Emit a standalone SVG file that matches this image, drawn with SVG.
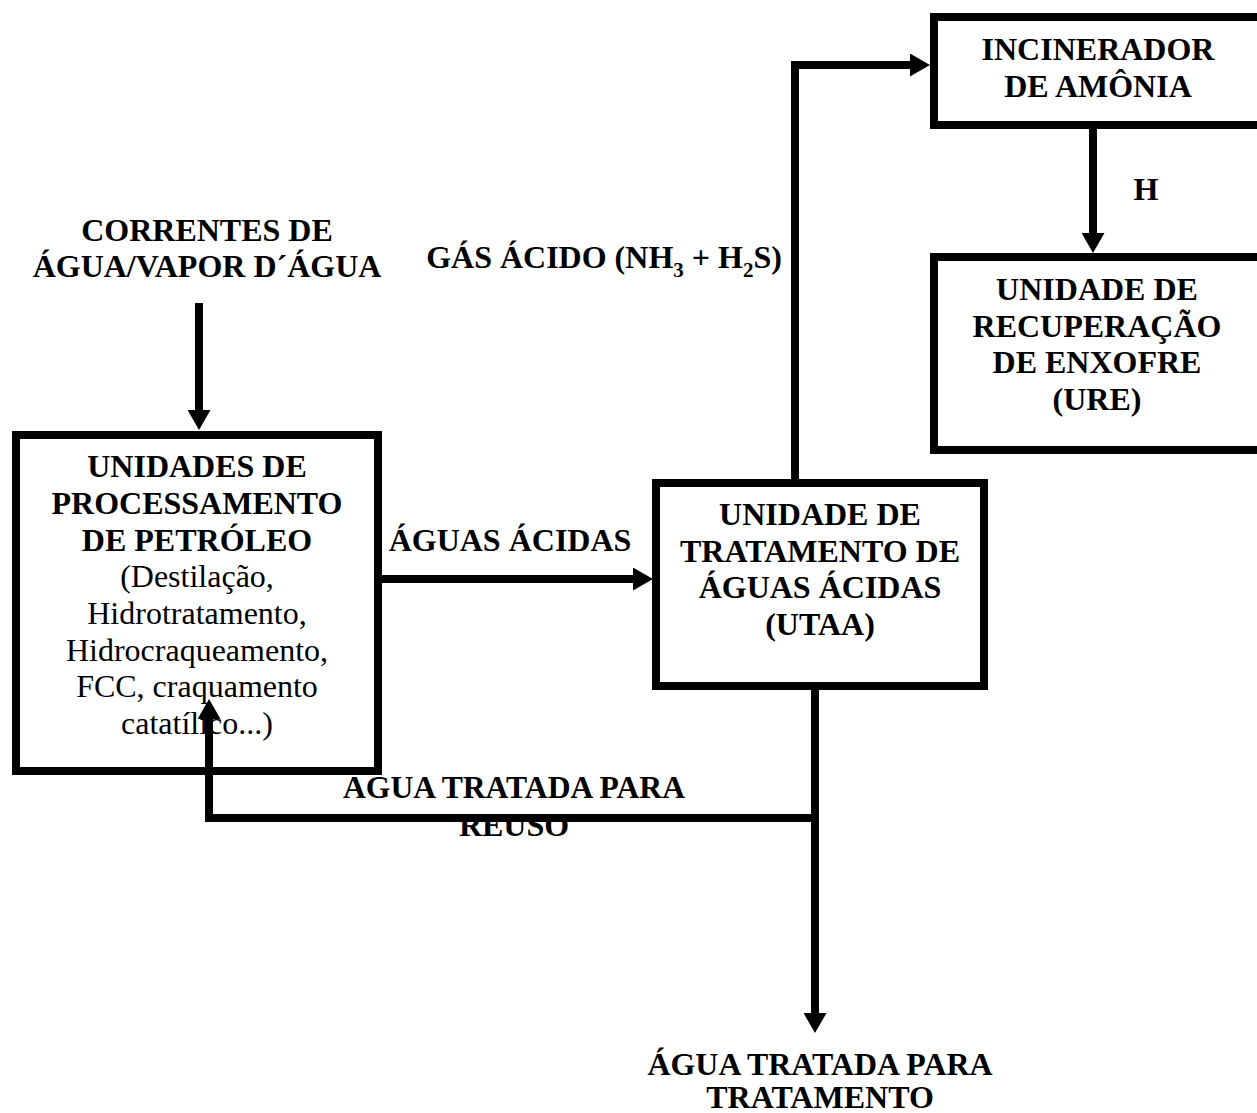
<svg xmlns="http://www.w3.org/2000/svg" width="1257" height="1113" viewBox="0 0 1257 1113">
<style>
.box{fill:#fff;stroke:#000;stroke-width:8}
.b{font-family:"Liberation Serif","Times New Roman",serif;font-weight:bold;font-size:32px;fill:#000;text-anchor:middle}
.r{font-family:"Liberation Serif","Times New Roman",serif;font-size:32px;fill:#000;text-anchor:middle}
.sub{font-size:21px}
.conn{fill:none;stroke:#000;stroke-width:8;stroke-linejoin:miter}
</style>
<defs>
<marker id="ah" markerUnits="userSpaceOnUse" markerWidth="20" markerHeight="23" viewBox="0 0 20 23" refX="8" refY="11.5" orient="auto">
<path d="M0,0 L20,11.5 L0,23 z" fill="#000"/>
</marker>
</defs>
<rect width="1257" height="1113" fill="#fff"/>
<g id="labels">
<text class="b" x="207" y="241">CORRENTES DE</text>
<text class="b" x="207" y="277">ÁGUA/VAPOR D´ÁGUA</text>
<text class="b" x="604" y="268" text-anchor="middle">GÁS ÁCIDO (NH<tspan class="sub" dy="9">3</tspan><tspan dy="-9"> + H</tspan><tspan class="sub" dy="9">2</tspan><tspan dy="-9">S)</tspan></text>
<text class="b" x="1146" y="200">H</text>
<text class="b" x="510" y="551">ÁGUAS ÁCIDAS</text>
<text class="b" x="514" y="798" textLength="342" lengthAdjust="spacingAndGlyphs">AGUA TRATADA PARA</text>
<text class="b" x="514" y="836">REUSO</text>
<text class="b" x="820" y="1075" textLength="345" lengthAdjust="spacingAndGlyphs">ÁGUA TRATADA PARA</text>
<text class="b" x="820" y="1108">TRATAMENTO</text>
</g>
<g id="node-unidades">
<rect class="box" x="16" y="435" width="362" height="336"/>
<text class="b" x="197" y="477">UNIDADES DE</text>
<text class="b" x="197" y="514">PROCESSAMENTO</text>
<text class="b" x="197" y="551">DE PETRÓLEO</text>
<text class="r" x="197" y="587">(Destilação,</text>
<text class="r" x="197" y="624">Hidrotratamento,</text>
<text class="r" x="197" y="661">Hidrocraqueamento,</text>
<text class="r" x="197" y="697">FCC, craquamento</text>
<text class="r" x="197" y="734">catatílico...)</text>
</g>
<g id="node-utaa">
<rect class="box" x="656" y="483" width="328" height="203"/>
<text class="b" x="820" y="525">UNIDADE DE</text>
<text class="b" x="820" y="562">TRATAMENTO DE</text>
<text class="b" x="820" y="598">ÁGUAS ÁCIDAS</text>
<text class="b" x="820" y="635">(UTAA)</text>
</g>
<g id="node-incinerador">
<rect class="box" x="934" y="17" width="328" height="108"/>
<text class="b" x="1098" y="60">INCINERADOR</text>
<text class="b" x="1098" y="97">DE AMÔNIA</text>
</g>
<g id="node-ure">
<rect class="box" x="934" y="257" width="328" height="193"/>
<text class="b" x="1097" y="300">UNIDADE DE</text>
<text class="b" x="1097" y="337">RECUPERAÇÃO</text>
<text class="b" x="1097" y="373">DE ENXOFRE</text>
<text class="b" x="1097" y="410">(URE)</text>
</g>
<g id="connectors">
<path class="conn" d="M199,303 V418" marker-end="url(#ah)"/>
<path class="conn" d="M379,579 H641" marker-end="url(#ah)"/>
<path class="conn" d="M795,483 V65 H918" marker-end="url(#ah)"/>
<path class="conn" d="M1093,125 V241" marker-end="url(#ah)"/>
<path class="conn" d="M815,686 V1021" marker-end="url(#ah)"/>
<path class="conn" d="M815,818 H209 V711" marker-end="url(#ah)"/>
</g>
</svg>
